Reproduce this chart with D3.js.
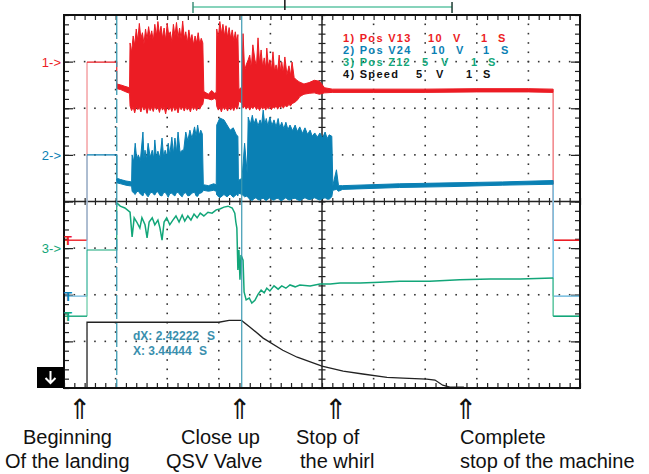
<!DOCTYPE html>
<html lang="en">
<head>
<meta charset="UTF-8">
<title>Scope record : landing of the machine</title>
<script src="https://d3js.org/d3.v7.min.js"></script>
<style>
  body { margin: 0; background: #fff; }
  text { font-family: "Liberation Sans", Arial, sans-serif; }
</style>
</head>
<body>

<div id="scope"></div>

<script>
    // time in s (1 s / div), values in screen divisions (-4 .. 4)
    const tStart = 0.446;              // step at beginning of landing
    const tCursor2 = 3.44444;          // X
    const tCursor1 = tCursor2 - 2.42222;  // X - dX
    const tEnd = 9.48;

    // channel colours, offset (ground) levels, level before cursor 1, reference markers
    const chanNames  = ["1) Pos V13", "2) Pos V24", "3) Pos Z12", "4) Speed"];
    const chanScale  = ["10", "10", "5", "5"];
    const chanColor  = ["#ec1c24", "#0a80b4", "#12a679", "#111111"];
    const chanLight  = ["#f28a8e", "#7cc0e0", "#64c9a4", "#111111"];
    const chanOffset = [-0.83, -2.03, -2.46, -4];
    const chanArmed  = [2.99, 1.00, -1.04, -2.59];
    const chanMarker = [3, 1, -1];

    // [t, top, bottom] envelopes of the noisy traces
    const redTrace = [
        [1.022, 2.52, 2.42], [1.10, 2.50, 2.40], [1.18, 2.47, 2.36], [1.27, 2.44, 2.32],
        [1.28, 3.40, 2.05], [1.31, 3.20, 1.95], [1.34, 3.55, 2.03], [1.37, 3.35, 1.90],
        [1.40, 3.70, 2.04], [1.43, 3.45, 1.97], [1.46, 3.82, 2.02], [1.49, 3.50, 1.92],
        [1.52, 3.62, 2.05], [1.55, 3.38, 1.96], [1.58, 3.70, 2.03], [1.61, 3.48, 1.89],
        [1.64, 3.75, 2.04], [1.67, 3.52, 1.95], [1.70, 3.66, 2.02], [1.73, 3.44, 1.93],
        [1.76, 3.80, 2.05], [1.79, 3.55, 1.97], [1.82, 3.86, 2.03], [1.85, 3.58, 1.91],
        [1.88, 3.76, 2.04], [1.91, 3.50, 1.96], [1.94, 3.72, 2.02], [1.97, 3.46, 1.88],
        [2.00, 3.82, 2.05], [2.03, 3.56, 1.96], [2.06, 3.64, 2.03], [2.09, 3.42, 1.93],
        [2.12, 3.80, 2.04], [2.15, 3.55, 1.95], [2.18, 3.84, 2.02], [2.21, 3.52, 1.90],
        [2.24, 3.72, 2.05], [2.27, 3.48, 1.97], [2.30, 3.87, 2.03], [2.33, 3.50, 1.94],
        [2.36, 3.64, 2.04], [2.39, 3.40, 1.96], [2.42, 3.68, 2.02], [2.45, 3.45, 1.92],
        [2.48, 3.58, 2.05], [2.51, 3.36, 1.97], [2.54, 3.55, 2.03], [2.57, 3.40, 1.95],
        [2.60, 3.62, 2.04], [2.63, 3.38, 1.98], [2.66, 3.50, 2.05], [2.69, 3.40, 2.08],
        [2.71, 2.36, 2.22], [2.80, 2.30, 2.20], [2.86, 2.38, 2.18], [2.92, 2.32, 2.21], [2.95, 2.34, 2.18],
        [2.96, 3.70, 2.04], [2.99, 3.50, 1.96], [3.02, 3.86, 2.03], [3.05, 3.60, 1.92],
        [3.08, 3.80, 2.04], [3.11, 3.55, 1.97], [3.14, 3.77, 2.02], [3.17, 3.52, 1.94],
        [3.20, 3.73, 2.05], [3.23, 3.50, 1.96], [3.26, 3.68, 2.03], [3.29, 3.45, 1.95],
        [3.32, 3.64, 2.04], [3.35, 3.42, 1.98], [3.37, 3.58, 2.02],
        [3.39, 2.40, 2.15], [3.44, 2.45, 2.12],
        [3.47, 3.60, 2.00], [3.50, 2.80, 2.05], [3.53, 2.93, 1.98], [3.57, 3.04, 2.04],
        [3.60, 3.14, 1.96], [3.63, 2.85, 2.03], [3.66, 3.36, 1.99], [3.70, 3.04, 2.05],
        [3.73, 2.90, 1.97], [3.76, 3.51, 2.02], [3.79, 2.95, 1.95], [3.82, 3.25, 2.04],
        [3.85, 2.88, 1.98], [3.88, 3.08, 2.03], [3.91, 2.85, 1.96], [3.93, 3.29, 2.02],
        [3.96, 2.90, 1.99], [3.99, 3.04, 2.05], [4.02, 2.82, 1.97], [4.05, 3.21, 2.03],
        [4.08, 2.80, 2.00], [4.11, 2.93, 2.06], [4.14, 2.78, 1.98], [4.17, 3.14, 2.04],
        [4.20, 2.76, 2.01], [4.22, 2.99, 2.07], [4.25, 2.75, 2.00], [4.28, 3.10, 2.06],
        [4.32, 2.72, 2.03], [4.36, 2.91, 2.08], [4.39, 2.70, 2.05], [4.42, 2.99, 2.10],
        [4.46, 2.66, 2.12], [4.50, 2.61, 2.15], [4.54, 2.58, 2.20], [4.57, 2.56, 2.25],
        [4.65, 2.52, 2.30], [4.75, 2.55, 2.32], [4.85, 2.60, 2.33], [4.95, 2.58, 2.30],
        [5.05, 2.44, 2.33], [5.20, 2.41, 2.34], [6.00, 2.41, 2.34], [7.00, 2.41, 2.34],
        [8.00, 2.42, 2.35], [9.00, 2.42, 2.35], [9.48, 2.41, 2.34]
    ];

    const blueTrace = [
        [1.022, 0.50, 0.40], [1.10, 0.47, 0.38], [1.20, 0.44, 0.35], [1.31, 0.42, 0.33],
        [1.32, 1.00, 0.22], [1.35, 0.85, 0.18], [1.38, 1.25, 0.15], [1.41, 0.90, 0.21],
        [1.44, 1.00, 0.22], [1.48, 0.88, 0.16], [1.53, 1.49, 0.12], [1.55, 0.92, 0.19],
        [1.57, 1.10, 0.20], [1.60, 0.90, 0.14], [1.63, 1.25, 0.10], [1.67, 0.95, 0.18],
        [1.71, 1.10, 0.20], [1.74, 0.92, 0.15], [1.76, 1.32, 0.14], [1.79, 0.95, 0.20],
        [1.82, 1.08, 0.21], [1.86, 0.93, 0.13], [1.90, 1.36, 0.12], [1.93, 0.96, 0.19],
        [1.96, 1.10, 0.20], [1.99, 0.95, 0.15], [2.02, 1.25, 0.09], [2.05, 1.00, 0.17],
        [2.09, 1.38, 0.18], [2.12, 1.02, 0.14], [2.15, 1.36, 0.12], [2.18, 1.05, 0.19],
        [2.21, 1.49, 0.20], [2.25, 1.05, 0.14], [2.29, 1.10, 0.10], [2.32, 1.10, 0.17],
        [2.36, 1.49, 0.19], [2.40, 1.30, 0.12], [2.44, 1.53, 0.13], [2.48, 1.35, 0.18],
        [2.53, 1.60, 0.20], [2.56, 1.40, 0.12], [2.59, 1.64, 0.11], [2.62, 1.42, 0.17],
        [2.65, 1.53, 0.18], [2.68, 1.45, 0.20],
        [2.70, 0.36, 0.24], [2.80, 0.34, 0.22], [2.90, 0.38, 0.24], [2.95, 0.36, 0.22],
        [2.96, 1.64, 0.14], [3.02, 1.79, 0.08], [3.10, 1.75, 0.15], [3.16, 1.64, 0.10],
        [3.22, 1.53, 0.16], [3.28, 1.58, 0.09], [3.34, 1.43, 0.15], [3.37, 1.40, 0.12],
        [3.38, 0.45, 0.18], [3.45, 0.50, 0.15], [3.50, 1.25, 0.10], [3.55, 0.60, 0.12],
        [3.57, 1.81, 0.08], [3.61, 1.65, 0.04], [3.65, 1.85, 0.02], [3.68, 1.66, 0.06],
        [3.72, 1.78, 0.08], [3.76, 1.62, 0.04], [3.80, 1.75, 0.03], [3.83, 1.64, 0.06],
        [3.86, 1.96, 0.07], [3.89, 1.65, 0.04], [3.92, 1.78, 0.02], [3.95, 1.62, 0.05],
        [3.99, 1.81, 0.08], [4.03, 1.63, 0.04], [4.07, 1.75, 0.03], [4.11, 1.60, 0.06],
        [4.15, 1.78, 0.07], [4.18, 1.58, 0.03], [4.22, 1.70, 0.02], [4.26, 1.56, 0.05],
        [4.30, 1.70, 0.08], [4.34, 1.54, 0.04], [4.38, 1.64, 0.03], [4.43, 1.52, 0.06],
        [4.48, 1.64, 0.07], [4.52, 1.50, 0.04], [4.57, 1.60, 0.02], [4.62, 1.46, 0.05],
        [4.67, 1.58, 0.08], [4.72, 1.44, 0.05], [4.77, 1.53, 0.04], [4.81, 1.40, 0.06],
        [4.86, 1.47, 0.08], [4.91, 1.38, 0.05], [4.96, 1.47, 0.03], [5.01, 1.36, 0.06],
        [5.06, 1.49, 0.08], [5.10, 1.35, 0.05], [5.14, 1.43, 0.05], [5.19, 1.40, 0.10],
        [5.21, 0.34, 0.24], [5.28, 0.68, 0.26], [5.32, 0.34, 0.22], [5.40, 0.34, 0.26],
        [6.50, 0.38, 0.30], [7.50, 0.40, 0.32], [8.50, 0.42, 0.35], [9.48, 0.45, 0.37]
    ];

    // [t, value] single lines
    const greenTrace = [
        [1.022, -0.03], [1.09, -0.10], [1.18, -0.14], [1.28, -0.23], [1.32, -0.76], [1.36, -0.35],
        [1.41, -0.44], [1.47, -0.57], [1.51, -0.35], [1.57, -0.50], [1.61, -0.78], [1.65, -0.44],
        [1.71, -0.35], [1.76, -0.50], [1.82, -0.40], [1.86, -0.57], [1.90, -0.83], [1.94, -0.44],
        [1.99, -0.35], [2.05, -0.50], [2.11, -0.40], [2.17, -0.31], [2.23, -0.44], [2.29, -0.29],
        [2.34, -0.42], [2.40, -0.31], [2.46, -0.40], [2.52, -0.27], [2.58, -0.35], [2.64, -0.25],
        [2.71, -0.31], [2.79, -0.23], [2.87, -0.25], [2.95, -0.18], [3.02, -0.16], [3.10, -0.12],
        [3.18, -0.10], [3.26, -0.14], [3.31, -0.25], [3.33, -0.44], [3.35, -0.57], [3.37, -1.47],
        [3.39, -1.04], [3.41, -1.68], [3.43, -1.15], [3.47, -1.26], [3.49, -1.94], [3.53, -2.11],
        [3.59, -2.07], [3.64, -2.18], [3.70, -2.12], [3.76, -1.99], [3.82, -1.90], [3.88, -1.96],
        [3.93, -1.86], [3.99, -1.92], [4.07, -1.81], [4.15, -1.88], [4.22, -1.81], [4.30, -1.86],
        [4.38, -1.79], [4.48, -1.83], [4.57, -1.79], [4.77, -1.81], [4.96, -1.77], [5.16, -1.77],
        [5.35, -1.75], [5.74, -1.75], [6.12, -1.73], [6.51, -1.71], [7.09, -1.71], [7.67, -1.68],
        [8.26, -1.66], [8.84, -1.66], [9.48, -1.64]
    ];

    const speedTrace = [
        [0, -4], [0.446, -4], [0.446, -2.59], [3.00, -2.59], [3.20, -2.55], [3.44, -2.55],
        [3.60, -2.69], [3.86, -2.93], [4.24, -3.19], [4.52, -3.34], [5.00, -3.53], [5.41, -3.64],
        [5.79, -3.70], [6.26, -3.77], [6.57, -3.79], [7.03, -3.81], [7.19, -3.83], [7.34, -3.94],
        [7.48, -3.98], [7.75, -3.98]
    ];

    // annotations under the screen
    const eventArrows = [0.31, 3.41, 5.27, 7.79];
    const eventLabels = [
        ["Beginning", "Of the landing"],
        ["Close up", "QSV Valve"],
        ["Stop of", "the whirl"],
        ["Complete", "stop of the machine"]
    ];
    const eventLabelX = [[23, 5], [181, 166], [296, 300], [460, 460]];

    const readout = ["dX: 2.42222", "X: 3.44444"];
    const windowBracket = [2.5, 7.52];
    const triggerMark = 4.28;


    const W = 649, H = 474;
    const svg = d3.select("#scope").append("svg")
        .attr("width", W).attr("height", H);

    const x = d3.scaleLinear().domain([0, 10]).range([64, 580]);
    const y = d3.scaleLinear().domain([-4, 4]).range([388, 15]);

    const minorX = d3.range(0, 10.001, 0.2);
    const minorY = d3.range(-4, 4.001, 0.2);

    // dotted grid : a dot at every minor step along each division line
    const grid = svg.append("g").attr("fill", "#333");
    [1, 2, 3, 4, 6, 7, 8, 9].forEach(k => {
        grid.selectAll(null).data(minorY.slice(1, -1)).join("rect")
            .attr("x", x(k) - 0.8).attr("y", d => y(d) - 0.8)
            .attr("width", 1.6).attr("height", 1.6);
    });
    [-3, -2, -1, 1, 2, 3].forEach(k => {
        grid.selectAll(null).data(minorX.slice(1, -1)).join("rect")
            .attr("x", d => x(d) - 0.8).attr("y", y(k) - 0.8)
            .attr("width", 1.6).attr("height", 1.6);
    });

    // border ticks pointing inwards
    const noLabel = "";
    function tickGroup(axis, tx, ty, color) {
        const g = svg.append("g").attr("transform", `translate(${tx},${ty})`).call(axis);
        g.select(".domain").remove();
        g.selectAll("line").attr("stroke", color || "#222").attr("stroke-width", 1.2);
        return g;
    }
    tickGroup(d3.axisTop(x).tickValues(minorX).tickSize(-5).tickFormat(() => noLabel), 0, y(4));
    tickGroup(d3.axisBottom(x).tickValues(minorX).tickSize(-5).tickFormat(() => noLabel), 0, y(-4));
    tickGroup(d3.axisLeft(y).tickValues(minorY).tickSize(-5).tickFormat(() => noLabel), x(0), 0);
    tickGroup(d3.axisRight(y).tickValues(minorY).tickSize(-5).tickFormat(() => noLabel), x(10), 0);
    tickGroup(d3.axisLeft(y).tickValues(d3.range(-3, 4)).tickSize(-9).tickFormat(() => noLabel), x(0), 0);
    tickGroup(d3.axisRight(y).tickValues(d3.range(-3, 4)).tickSize(-9).tickFormat(() => noLabel), x(10), 0);

    // centre cross with ticks on both sides
    tickGroup(d3.axisTop(x).tickValues(minorX).tickSize(3.5).tickFormat(() => noLabel), 0, y(0));
    tickGroup(d3.axisBottom(x).tickValues(minorX).tickSize(3.5).tickFormat(() => noLabel), 0, y(0));
    tickGroup(d3.axisLeft(y).tickValues(minorY).tickSize(3.5).tickFormat(() => noLabel), x(5), 0);
    tickGroup(d3.axisRight(y).tickValues(minorY).tickSize(3.5).tickFormat(() => noLabel), x(5), 0);
    svg.append("line").attr("x1", x(0)).attr("x2", x(10)).attr("y1", y(0)).attr("y2", y(0))
        .attr("stroke", "#222").attr("stroke-width", 1.5);
    svg.append("line").attr("x1", x(5)).attr("x2", x(5)).attr("y1", y(4)).attr("y2", y(-4))
        .attr("stroke", "#222").attr("stroke-width", 1.5);

    const line = d3.line().x(d => x(d[0])).y(d => y(d[1]));
    const band = d3.area().x(d => x(d[0])).y0(d => y(d[2])).y1(d => y(d[1]));

    // step lines: offset level, jump at start, armed level until cursor 1, and the end of record
    const firstVal = [redTrace[0][1] - 0.05, blueTrace[0][1] - 0.05, greenTrace[0][1]];
    const lastVal = [redTrace[redTrace.length - 1][2], blueTrace[blueTrace.length - 1][2], greenTrace[greenTrace.length - 1][1]];
    [0, 1, 2].forEach(i => {
        svg.append("path")
            .attr("d", line([[tStart, chanOffset[i]], [tStart, chanArmed[i]]]))
            .attr("fill", "none").attr("stroke", chanLight[i]).attr("stroke-width", 1.2);
        svg.append("path")
            .attr("d", line([[tStart, chanArmed[i]], [tCursor1, chanArmed[i]], [tCursor1, firstVal[i]]]))
            .attr("fill", "none").attr("stroke", chanColor[i]).attr("stroke-width", 1.2);
        svg.append("path")
            .attr("d", line([[tEnd, lastVal[i]], [tEnd, chanOffset[i]]]))
            .attr("fill", "none").attr("stroke", chanLight[i]).attr("stroke-width", 1.6);
        const lvl = i === 1 ? chanLight[i] : chanColor[i];
        svg.append("path")
            .attr("d", line([[0, chanOffset[i]], [tStart, chanOffset[i]]]))
            .attr("fill", "none").attr("stroke", lvl).attr("stroke-width", 1.4);
        svg.append("path")
            .attr("d", line([[tEnd, chanOffset[i]], [10, chanOffset[i]]]))
            .attr("fill", "none").attr("stroke", lvl).attr("stroke-width", 1.6);
    });

    // noisy traces
    svg.append("path").attr("d", band(redTrace))
        .attr("fill", chanColor[0]).attr("stroke", chanColor[0]).attr("stroke-width", 1);
    svg.append("path").attr("d", band(blueTrace))
        .attr("fill", chanColor[1]).attr("stroke", chanColor[1]).attr("stroke-width", 1);
    svg.append("path").attr("d", line(greenTrace))
        .attr("fill", "none").attr("stroke", chanColor[2]).attr("stroke-width", 1.5);
    svg.append("path").attr("d", line(speedTrace))
        .attr("fill", "none").attr("stroke", "#222").attr("stroke-width", 1.3);

    // cursors
    svg.append("line").attr("x1", x(tCursor1)).attr("x2", x(tCursor1))
        .attr("y1", y(4)).attr("y2", y(-4))
        .attr("stroke", "#3c9ab2").attr("stroke-width", 1.3).attr("stroke-dasharray", "24,4");
    svg.append("line").attr("x1", x(tCursor2)).attr("x2", x(tCursor2))
        .attr("y1", y(4)).attr("y2", y(-4))
        .attr("stroke", "#3c9ab2").attr("stroke-width", 1.2);

    // frame
    svg.append("rect").attr("x", x(0)).attr("y", y(4))
        .attr("width", x(10) - x(0)).attr("height", y(-4) - y(4))
        .attr("fill", "none").attr("stroke", "#111").attr("stroke-width", 2);

    // memory window bracket above the screen
    svg.append("line").attr("x1", x(windowBracket[0])).attr("x2", x(windowBracket[1]))
        .attr("y1", 7).attr("y2", 7).attr("stroke", "#5fc4a4").attr("stroke-width", 1.5);
    svg.append("line").attr("x1", x(windowBracket[0])).attr("x2", x(windowBracket[0]))
        .attr("y1", 2).attr("y2", 13).attr("stroke", "#3f8f7a").attr("stroke-width", 1.5);
    svg.append("line").attr("x1", x(windowBracket[1])).attr("x2", x(windowBracket[1]))
        .attr("y1", 2).attr("y2", 13).attr("stroke", "#1d3b33").attr("stroke-width", 1.5);
    svg.append("line").attr("x1", x(triggerMark)).attr("x2", x(triggerMark))
        .attr("y1", 0).attr("y2", 10).attr("stroke", "#111").attr("stroke-width", 1.5);

    // channel reference markers
    chanMarker.forEach((m, i) => {
        svg.append("text").attr("x", 61).attr("y", y(m) + 5)
            .attr("text-anchor", "end").attr("font-size", 13)
            .attr("fill", chanColor[i]).text((i + 1) + "->");
    });
    // trigger level markers
    [0, 1, 2].forEach(i => {
        svg.append("text").attr("x", 64).attr("y", y(chanOffset[i]) + 5)
            .attr("font-size", 13).attr("font-weight", "bold")
            .attr("fill", chanColor[i]).text("T");
    });
    // channel 4 marker : black box with a white down arrow
    const m4 = y(-4);
    svg.append("rect").attr("x", 37).attr("y", m4 - 21).attr("width", 27).attr("height", 21)
        .attr("fill", "#000");
    svg.append("path")
        .attr("d", `M50.5,${m4 - 17} V${m4 - 5} M45.5,${m4 - 10} L50.5,${m4 - 5} L55.5,${m4 - 10}`)
        .attr("fill", "none").attr("stroke", "#fff").attr("stroke-width", 2);

    // legend
    const legCols = [[343, 428, 453, 481, 498], [343, 431, 456, 483, 501], [343, 422, 441, 471, 488], [343, 416, 436, 466, 483]];
    chanNames.forEach((n, i) => {
        const g = svg.append("g").attr("fill", chanColor[i])
            .attr("font-size", 11).attr("font-weight", "bold").attr("letter-spacing", 1.3);
        const by = 42 + i * 12;
        [n, chanScale[i], "V", "1", "S"].forEach((s, j) => {
            g.append("text").attr("x", legCols[i][j]).attr("y", by).text(s);
        });
    });

    // cursor readout
    const ro = svg.append("g").attr("fill", "#3a8fae").attr("font-size", 12).attr("font-weight", "bold");
    ro.append("text").attr("x", 133).attr("y", 340).text(readout[0]);
    ro.append("text").attr("x", 207).attr("y", 340).text("S");
    ro.append("text").attr("x", 133).attr("y", 355).text(readout[1]);
    ro.append("text").attr("x", 199).attr("y", 355).text("S");

    // annotations
    eventArrows.forEach(t => {
        svg.append("text").attr("x", x(t)).attr("y", 419).attr("text-anchor", "middle")
            .attr("font-family", "DejaVu Sans").attr("font-size", 28).attr("fill", "#111").text("\u21D1");
    });
    eventLabels.forEach((pair, i) => {
        pair.forEach((s, j) => {
            svg.append("text").attr("x", eventLabelX[i][j]).attr("y", 444 + j * 24)
                .attr("font-size", 20).attr("fill", "#111").text(s);
        });
    });
</script>

</body>
</html>
